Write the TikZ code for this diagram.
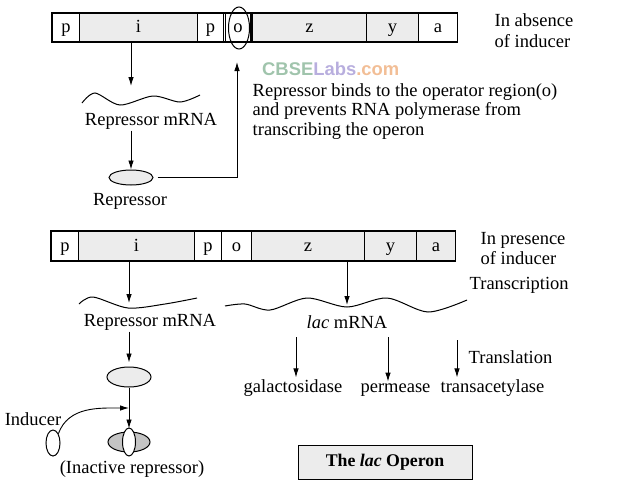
\documentclass[tikz,border=0pt]{standalone}
\usepackage{fontspec}
\setmainfont{Liberation Serif}
\newfontfamily\wmfont{Liberation Sans}
\usetikzlibrary{arrows.meta,shapes.geometric}
\definecolor{wmgreen}{RGB}{160,196,172}
\definecolor{wmviolet}{RGB}{184,174,222}
\definecolor{wmorange}{RGB}{242,190,150}
\definecolor{stipple}{RGB}{236,236,236}
\definecolor{darkstipple}{RGB}{196,196,196}

\begin{document}
\begin{tikzpicture}[x=1pt,y=-1pt,
  txt/.style={font=\fontsize{18.5}{19.5}\selectfont, inner sep=1.5pt},
  seg/.style={draw, line width=1.1pt, inner sep=0pt, anchor=west,
    text height=14pt, text depth=4pt, font=\fontsize{18.5}{19.5}\selectfont},
  shaded/.style={fill=stipple},
  blob/.style={draw, ellipse, line width=1pt, inner sep=0pt},
  arr/.style={line width=0.9pt, -{Latex[length=9pt,width=5.5pt]}},
  wave/.style={line width=1pt},
]
\useasboundingbox (0,0) rectangle (629,488);

% ---------- operon without inducer ----------
\draw[line width=1.1pt] (52,13) rectangle (457,42);
\node[seg, minimum height=29pt, minimum width=27pt, fill=white] (tp1) at (52,27.5) {p};
\node[seg, minimum height=29pt, minimum width=118pt, shaded] (ti) at (79,27.5) {i};
\node[seg, minimum height=29pt, minimum width=26pt, fill=white] (tp2) at (197,27.5) {p};
\node[seg, minimum height=29pt, minimum width=25.8pt, fill=white] (to) at (224.6,27.5) {o};
\node[seg, minimum height=29pt, minimum width=114pt, shaded] (tz) at (252,27.5) {z};
\node[seg, minimum height=29pt, minimum width=52pt, shaded] (ty) at (366,27.5) {y};
\node[seg, minimum height=29pt, minimum width=39pt, fill=white] (ta) at (418,27.5) {a};
\node[blob, minimum width=21pt, minimum height=42pt] (opring) at (239,28) {};

\node[txt, anchor=base west] (absence1) at (493,26) {In absence};
\node[txt, anchor=base west] (absence2) at (493,47) {of inducer};

% repressor made from the i gene
\coordinate (w1tip) at (131,86);
\draw[arr] (ti.south -| w1tip) -- (w1tip);
\draw[wave] plot[smooth] coordinates {(82,103) (95,93) (120,105) (153,96) (180,102) (200,95)};
\node[txt, anchor=base] (rmrna1) at (151,125) {Repressor mRNA};
\node[blob, fill=stipple, minimum width=44pt, minimum height=15pt] (rep1) at (131,177.5) {};
\draw[arr] (rmrna1.south -| rep1.north) -- (rep1.north);
\node[txt, anchor=base] (rep1lbl) at (130,205) {Repressor};

% repressor goes to the operator
\coordinate (opin) at (237,62);
\draw[arr] (rep1.east) ++(4,0) -| (opin);

\node[anchor=base west, inner sep=0pt, font=\wmfont\bfseries\fontsize{18.4}{20}\selectfont] (wm) at (262,75)
  {\textcolor{wmgreen}{CBSE}\textcolor{wmviolet}{Labs}\textcolor{wmorange}{.com}};
\node[txt, anchor=base west] (bind1) at (251,96) {Repressor binds to the operator region(o)};
\node[txt, anchor=base west] (bind2) at (251,115.5) {and prevents RNA polymerase from};
\node[txt, anchor=base west] (bind3) at (251,135) {transcribing the operon};

% ---------- operon with inducer ----------
\draw[line width=1.1pt] (51,231) rectangle (455,261);
\node[seg, minimum height=30pt, minimum width=27pt, fill=white] (bp1) at (51,246) {p};
\node[seg, minimum height=30pt, minimum width=116pt, shaded] (bi) at (78,246) {i};
\node[seg, minimum height=30pt, minimum width=27pt, fill=white] (bp2) at (194,246) {p};
\node[seg, minimum height=30pt, minimum width=30pt, fill=white] (bo) at (221,246) {o};
\node[seg, minimum height=30pt, minimum width=113pt, shaded] (bz) at (251,246) {z};
\node[seg, minimum height=30pt, minimum width=52pt, shaded] (by) at (364,246) {y};
\node[seg, minimum height=30pt, minimum width=39pt, shaded] (ba) at (416,246) {a};

\node[txt, anchor=base west] (pres1) at (479,244) {In presence};
\node[txt, anchor=base west] (pres2) at (479,264) {of inducer};
\node[txt, anchor=base west] (transc) at (468,289) {Transcription};

% transcription of i and of z y a
\coordinate (w2tip) at (129,303);
\draw[arr] (bi.south -| w2tip) -- (w2tip);
\draw[wave] plot[smooth] coordinates {(79,304) (93,297) (128,308) (165,304) (197,298)};
\coordinate (w3tip) at (347,305);
\draw[arr] (bz.south -| w3tip) -- (w3tip);
\draw[wave] plot[smooth] coordinates {(225,306) (245,304) (270,310) (307,298) (347,307) (387,298) (428,312) (467,300)};

% repressor inactivated by the inducer
\node[txt, anchor=base] (rmrna2) at (150,326) {Repressor mRNA};
\node[blob, fill=stipple, minimum width=44pt, minimum height=20pt] (rep2) at (129,377) {};
\draw[arr, shorten >=4pt] (rmrna2.south -| rep2.north) -- (rep2.north);
\node[blob, fill=darkstipple, minimum width=42pt, minimum height=20pt] (inact) at (129,442) {};
\node[blob, fill=white, minimum width=13pt, minimum height=28pt] (indbound) at (129,442) {};
\draw[arr, shorten >=3pt] (rep2.south) -- (inact.north);
\node[blob, fill=white, minimum width=14pt, minimum height=26pt] (ind) at (53,443) {};
\coordinate (join) at (129,408);
\draw[arr] (ind.60) to[out=70,in=180] (join);
\node[txt, anchor=base] (indlbl) at (33,425) {Inducer};
\node[txt, anchor=base] (inactlbl) at (132,473) {(Inactive repressor)};

% translation of lac mRNA
\node[txt, anchor=base] (lacm) at (347,328) {\textit{lac} mRNA};
\node[txt, anchor=base] (gal) at (293,392) {galactosidase};
\node[txt, anchor=base] (perm) at (395.5,392) {permease};
\node[txt, anchor=base] (trans) at (492.5,392) {transacetylase};
\coordinate (g1) at (296,337);
\coordinate (g2) at (388,337);
\coordinate (g3) at (457,340);
\draw[arr] (g1) -- (g1 |- gal.north);
\draw[arr] (g2) -- (g2 |- perm.north);
\draw[arr] (g3) -- (g3 |- trans.north);
\node[txt, anchor=base west] (transl) at (467,363) {Translation};

% caption box
\node[draw, fill=stipple, line width=1pt, minimum width=174pt, minimum height=34pt, inner sep=0pt,
  font=\bfseries\fontsize{17.8}{19}\selectfont] (title) at (385,462) {The \textit{lac} Operon};
\end{tikzpicture}
\end{document}
